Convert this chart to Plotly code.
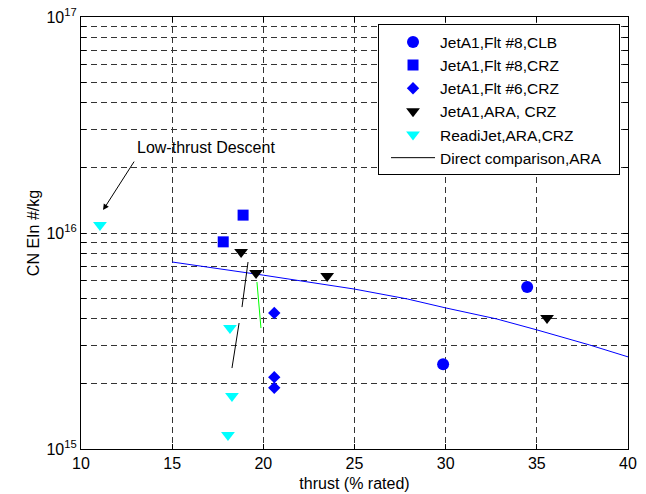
import plotly.graph_objects as go

# ---- data ----
clb8_x = [29.86, 34.47]
clb8_y = [2.47e15, 5.62e15]
crz8_x = [17.8, 18.89]
crz8_y = [9.1e15, 1.21e16]
crz6_x = [20.6, 20.6, 20.6]
crz6_y = [4.26e15, 2.15e15, 1.92e15]
araJ_x = [18.78, 19.6, 23.5, 35.56]
araJ_y = [8.17e15, 6.53e15, 6.32e15, 4.04e15]
readi_x = [11.04, 18.17, 18.28, 18.06]
readi_y = [1.09e16, 3.63e15, 1.76e15, 1.16e15]
direct_x = [19.16, 18.83, None, 18.67, 18.28]
direct_y = [7.34e15, 4.54e15, None, 3.83e15, 2.37e15]
green_x = [19.65, 19.87]
green_y = [5.93e15, 3.63e15]
curve_x = [15, 20, 25, 27.9, 30, 32.8, 35, 37.9, 40]
curve_y = [7.34e15, 6.38e15, 5.5e15, 4.95e15, 4.5e15, 4.0e15, 3.56e15, 3.03e15, 2.67e15]

x_ticks = [10, 15, 20, 25, 30, 35, 40]
y_ticks = [m * 10 ** e for e in (15, 16) for m in range(1, 10)] + [1e17]
y_text = ["10<sup>15</sup>" if v == 1e15 else "10<sup>16</sup>" if v == 1e16 else "10<sup>17</sup>" if v == 1e17 else "" for v in y_ticks]

FONT = "Liberation Sans, Arial, sans-serif"
FS = 16
BLUE = "#0000FF"
CYAN = "#00FFFF"
NB = "\u00a0"

fig = go.Figure()
fig.add_trace(go.Scatter(x=curve_x, y=curve_y, mode="lines", line=dict(color=BLUE, width=1), showlegend=False))
fig.add_trace(go.Scatter(x=green_x, y=green_y, mode="lines", line=dict(color="#00FF00", width=1), showlegend=False))
fig.add_trace(go.Scatter(x=clb8_x, y=clb8_y, mode="markers", name="JetA1,Flt #8,CLB",
                         marker=dict(symbol="circle", size=12, color=BLUE)))
fig.add_trace(go.Scatter(x=crz8_x, y=crz8_y, mode="markers", name="JetA1,Flt #8,CRZ",
                         marker=dict(symbol="square", size=11, color=BLUE)))
fig.add_trace(go.Scatter(x=crz6_x, y=crz6_y, mode="markers", name="JetA1,Flt #6,CRZ",
                         marker=dict(symbol="diamond", size=9.5, color=BLUE)))
fig.add_trace(go.Scatter(x=araJ_x, y=araJ_y, mode="markers", name="JetA1,ARA, CRZ",
                         marker=dict(symbol="triangle-down", size=12, color="black")))
fig.add_trace(go.Scatter(x=readi_x, y=readi_y, mode="markers", name="ReadiJet,ARA,CRZ",
                         marker=dict(symbol="triangle-down", size=12, color=CYAN)))
fig.add_trace(go.Scatter(x=direct_x, y=direct_y, mode="lines", name="Direct comparison,ARA" + NB * 3,
                         line=dict(color="black", width=1), connectgaps=False))

fig.add_annotation(x=11.21, y=16.106, xref="x", yref="y", text="", showarrow=True,
                   ax=32, ay=-50, axref="pixel", ayref="pixel",
                   arrowhead=2, arrowsize=1.2, arrowwidth=1, arrowcolor="black")
fig.add_annotation(x=16.88, y=16.394, xref="x", yref="y", text="Low-thrust Descent",
                   showarrow=False, font=dict(family=FONT, size=FS, color="black"))

axis_common = dict(showline=True, linecolor="black", linewidth=1.2, mirror="ticks",
                   ticks="inside", ticklen=5, tickcolor="black", automargin=False,
                   showgrid=True, gridcolor="#333", griddash="6px,4px", gridwidth=1,
                   zeroline=False, tickfont=dict(family=FONT, size=FS, color="black"))

fig.update_layout(
    width=646, height=494,
    margin=dict(l=81, r=18, t=17, b=45, autoexpand=False),
    paper_bgcolor="white", plot_bgcolor="white",
    font=dict(family=FONT, size=FS, color="black"),
    xaxis=dict(range=[10, 40], tickvals=x_ticks,
               title=dict(text="thrust (% rated)", font=dict(family=FONT, size=FS), standoff=6),
               **axis_common),
    yaxis=dict(type="log", range=[15, 17], tickvals=y_ticks, ticktext=y_text,
               title=dict(text="CN EIn #/kg", font=dict(family=FONT, size=FS), standoff=2),
               **axis_common),
    legend=dict(x=0.543, y=0.983, xanchor="left", yanchor="top",
                bgcolor="white", bordercolor="black", borderwidth=1,
                font=dict(family=FONT, size=15.5, color="black"),
                itemwidth=44, indentation=7, tracegroupgap=0),
    showlegend=True,
)

# remove the browser's default 8px body margin so the figure sits at the page origin
fig.write_html("out.html", config={"displayModeBar": False},
               post_script="document.body.style.margin='0';")
